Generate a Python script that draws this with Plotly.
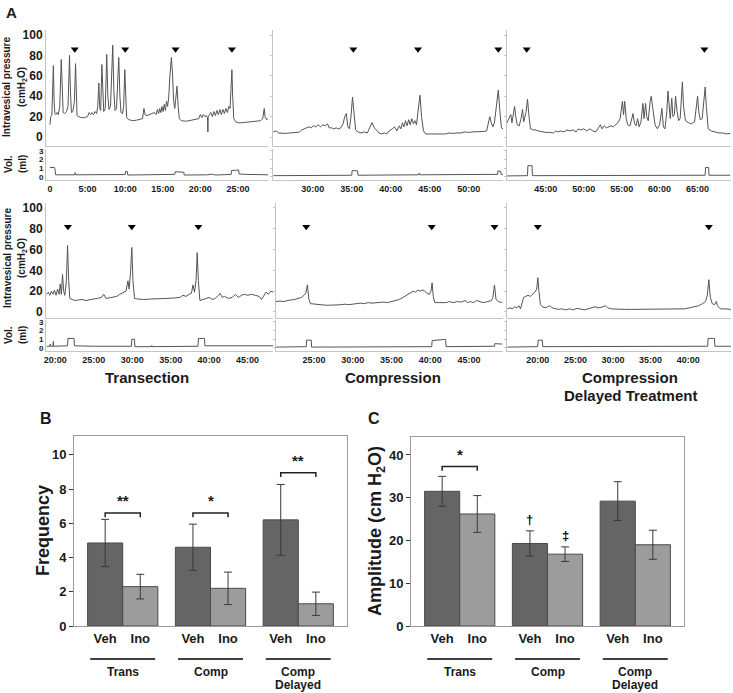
import plotly.graph_objects as go

W, H = 733, 693
FONT = "Liberation Sans, Arial, sans-serif"

# ---------------- Panel A data (time in minutes, pressure cmH2O, volume ml) ----------------
tl_pressure = [(0.0,12),(0.1,20),(0.25,21),(0.35,40),(0.45,70),(0.55,35),(0.65,23),(0.8,22),(0.95,24),(1.1,22),
 (1.3,30),(1.5,76),(1.62,40),(1.75,24),(1.95,23),(2.2,25),(2.4,30),(2.6,80),(2.72,45),(2.85,24),(3.05,25),(3.25,35),
 (3.4,72),(3.5,40),(3.6,21),(3.8,20),(4.2,19),(4.6,19),(5.0,20),(5.2,24),(5.4,22),(5.6,24),(5.8,22),(6.0,25),(6.2,23),
 (6.35,30),(6.5,53),(6.62,28),(6.75,26),(6.9,71),(7.02,35),(7.15,25),(7.35,28),(7.55,81),(7.7,40),(7.85,27),(8.05,30),
 (8.35,90),(8.5,45),(8.65,26),(8.85,28),(9.15,78),(9.3,40),(9.45,24),(9.65,23),(9.8,30),(9.95,66),(10.05,35),(10.2,19),
 (10.5,17),(11,16),(11.5,16.5),(12,17),(12.3,18),(12.5,28),(12.65,22),(12.9,21),(13.3,22),(13.6,23),(13.9,24),(14.1,22),
 (14.3,27),(14.45,23),(14.6,28),(14.75,24),(14.9,30),(15.05,25),(15.2,32),(15.35,26),(15.5,35),(15.65,30),(15.8,40),
 (15.95,60),(16.15,78),(16.3,62),(16.45,35),(16.6,28),(16.75,40),(16.9,50),(17.05,30),(17.2,18),(17.5,16),(18,15.5),
 (18.5,16),(19,16.5),(19.5,17),(19.8,18),(20.0,22),(20.2,19),(20.4,22),(20.6,20),(20.8,21),(20.95,19),(21.0,5),(21.05,20),
 (21.2,22),(21.4,24),(21.6,20),(21.8,25),(22.0,21),(22.2,26),(22.4,22),(22.6,27),(22.8,22),(23.0,27),(23.2,23),(23.4,28),
 (23.6,24),(23.8,30),(23.95,28),(24.1,45),(24.2,66),(24.3,40),(24.45,18),(24.7,15),(25,14),(25.5,14),(26,14.5),(26.5,15),
 (27,15),(27.5,16),(28,16),(28.3,18),(28.5,28),(28.6,20),(28.8,17),(29.0,18)]
tl_volume = [(0,1.1),(0.6,1.1),(0.65,1.0),(0.75,0.25),(3.3,0.25),(3.35,0.5),(3.4,0.25),(10.0,0.28),(10.05,0.65),(10.3,0.6),
 (10.35,0.22),(16.6,0.3),(16.65,0.6),(17.8,0.55),(17.85,0.22),(21,0.25),(21.5,0.32),(22,0.22),(24.1,0.3),(24.15,0.75),
 (25.1,0.8),(25.15,0.35),(26,0.3),(29,0.25)]

tm_pressure = [(24.95,5),(25.3,6),(25.6,4),(26,3.5),(26.5,3.5),(27,4),(27.5,4),(28,4.5),(28.3,5),(28.6,7),(28.9,8),(29.2,9),
 (29.5,10),(29.8,9),(30.1,11),(30.4,10),(30.7,12),(31,10),(31.3,12),(31.6,11),(31.9,13),(32.1,9),(32.4,9),(32.7,8),(33,9),
 (33.3,8),(33.6,9),(33.9,13),(34.1,20),(34.3,23),(34.5,10),(34.7,8),(34.9,20),(35.1,39),(35.3,22),(35.5,7),(35.8,5),(36.2,4),
 (36.6,5),(37,4),(37.3,9),(37.6,14),(37.9,9),(38.2,6),(38.5,4),(38.8,3),(39.2,4),(39.5,3),(39.8,6),(40.2,8),(40.5,10),(40.8,6),
 (41.1,11),(41.3,8),(41.5,14),(41.7,10),(41.9,16),(42.1,11),(42.3,17),(42.5,12),(42.7,18),(42.9,13),(43.1,16),(43.3,12),
 (43.5,28),(43.75,41),(43.95,20),(44.2,6),(44.5,3),(45,3),(45.5,3.5),(46,3),(46.5,3.5),(47,3),(47.5,4),(48,3.5),(48.5,4),
 (49,4),(49.5,5),(50,4.5),(50.5,5),(51,5),(51.5,5.5),(52,5.5),(52.3,6),(52.5,14),(52.7,20),(52.9,14),(53.1,10),(53.3,14),
 (53.55,30),(53.8,46),(54.0,25),(54.2,9),(54.4,8)]
tm_volume = [(24.95,0.15),(35.0,0.2),(35.05,0.75),(35.75,0.7),(35.8,0.2),(43.6,0.25),(43.65,0.45),(43.75,0.25),(53.7,0.3),
 (53.75,0.7),(54.1,0.65),(54.15,0.3),(54.4,0.3)]

tr_pressure = [(39.9,14),(40.2,18),(40.4,22),(40.55,14),(40.75,26),(40.9,30),(41.05,20),(41.25,12),(41.5,11),(41.75,18),
 (41.95,27),(42.1,15),(42.4,24),(42.6,37),(42.8,20),(43.0,8),(43.3,7),(43.6,7),(44,6),(44.5,5),(45,4.5),(45.5,4.5),(46,4),
 (46.3,6),(46.6,5),(47,6),(47.4,5),(47.8,7),(48.2,6),(48.6,7),(49,5),(49.3,8),(49.6,7),(50,8),(50.4,6),(50.8,8),(51.2,6),
 (51.6,5),(51.9,9),(52.2,12),(52.4,8),(52.7,11),(53,9),(53.3,10),(53.6,11),(53.9,10),(54.2,12),(54.5,14),(54.8,18),(55.1,35),
 (55.25,22),(55.4,35),(55.6,18),(55.8,12),(56.1,11),(56.3,16),(56.5,23),(56.7,13),(56.9,11),(57.1,18),(57.3,10),(57.55,15),
 (57.8,33),(57.95,18),(58.15,33),(58.3,20),(58.5,16),(58.75,35),(58.9,40),(59.1,28),(59.4,12),(59.7,8),(60.0,12),(60.3,28),
 (60.5,10),(60.7,8),(60.95,25),(61.1,45),(61.25,25),(61.4,18),(61.6,38),(61.75,20),(61.95,22),(62.1,40),(62.3,25),(62.5,16),
 (62.7,18),(62.85,35),(63.0,54),(63.15,30),(63.4,16),(63.8,14),(64.2,13),(64.6,15),(64.85,30),(65.0,40),(65.15,25),
 (65.35,17),(65.6,18),(65.85,35),(66.0,49),(66.15,30),(66.4,8),(66.8,6),(67.3,5),(67.8,4),(68.3,4),(68.8,3),(69.3,3.5)]
tr_volume = [(39.9,0.12),(42.6,0.15),(42.65,1.3),(43.2,1.3),(43.25,0.15),(66.0,0.2),(66.05,1.1),(66.45,1.1),(66.5,0.2),(69.3,0.2)]

bl_pressure = [(18.9,17),(19.1,19),(19.3,16),(19.5,20),(19.7,17),(19.9,21),(20.1,16),(20.3,22),(20.5,17),(20.65,27),(20.8,17),
 (20.95,36),(21.1,20),(21.25,16),(21.45,30),(21.6,64),(21.75,30),(21.9,13),(22.2,12),(22.6,11),(23,11.5),(23.5,12),(24,11),
 (24.5,12),(25,12.5),(25.5,13),(26,14),(26.3,17),(26.6,13),(27,13.5),(27.5,14),(28,15),(28.4,17),(28.7,18),(29,19),(29.2,20),
 (29.45,30),(29.6,22),(29.8,40),(29.95,62),(30.1,30),(30.3,13),(30.7,12.5),(31.5,12),(32.5,12.5),(33.5,12.5),(34.5,13),
 (35.5,13.5),(36.2,14),(36.6,16),(37.0,15),(37.4,17),(37.7,18),(37.9,26),(38.1,19),(38.3,30),(38.45,57),(38.6,30),(38.8,11),
 (39.2,12),(39.6,13),(40,14),(40.4,12),(40.8,13),(41.2,16),(41.4,18),(41.7,14),(42.0,15),(42.5,13),(43,14),(43.4,17),(43.8,14),
 (44.2,16),(44.6,17),(45,16),(45.5,17),(46,16),(46.5,15),(46.8,12),(47.1,16),(47.4,19),(47.7,17),(48.0,20),(48.3,19)]
bl_volume = [(18.9,0.2),(19.3,0.2),(19.35,0.45),(19.4,0.2),(19.7,0.2),(19.75,0.75),(19.8,0.2),(21.6,0.25),(21.65,1.1),
 (22.45,1.1),(22.5,0.25),(25,0.2),(29.9,0.2),(29.95,1.0),(30.3,1.0),(30.35,0.15),(32.5,0.15),(32.55,0.3),(32.6,0.15),
 (38.55,0.2),(38.6,1.1),(39.4,1.1),(39.45,0.25),(48.3,0.25)]

bm_pressure = [(20.1,10),(20.6,10.5),(21,10),(21.5,11),(22,11.5),(22.5,12),(23,13),(23.4,14),(23.7,16),(23.95,18),(24.15,26),
 (24.35,12),(24.55,8),(25,7.5),(25.5,7),(26,7),(26.5,6.5),(27,6.5),(27.5,6.5),(28,7),(28.5,7),(29,7.5),(29.5,7),(30,7.5),
 (30.5,8),(31,8.5),(31.5,8),(32,9),(32.5,8.5),(33,9),(33.5,9),(34,9.5),(34.5,9),(35,10),(35.5,11),(36,12),(36.5,14),(37,16),
 (37.5,18),(37.8,20),(38.1,19),(38.4,21),(38.7,20),(39,21),(39.3,20),(39.6,18),(39.9,17),(40.1,20),(40.25,28),(40.4,15),
 (40.6,9),(41,9),(41.5,9.5),(42,9),(42.5,10),(43,9),(43.5,10),(44,9.5),(44.5,11),(44.8,9),(45.2,10),(45.6,9),(46,11),
 (46.4,10),(46.8,9),(47.2,9.5),(47.6,10),(47.9,11),(48.1,14),(48.3,26),(48.5,12),(48.8,10),(49.3,9)]
bm_volume = [(20.1,0.1),(24.0,0.15),(24.05,0.9),(24.65,0.9),(24.7,0.1),(40.2,0.15),(40.25,0.85),(41.2,0.95),(42.0,1.0),
 (42.05,0.15),(48.3,0.2),(48.35,0.5),(49.3,0.45)]

br_pressure = [(15.95,3),(16.3,4),(16.6,3),(16.9,5),(17.2,4),(17.5,6),(17.7,3),(17.9,8),(18.1,14),(18.4,15),(18.7,16),(19,15),
 (19.3,17),(19.6,19),(19.85,22),(20.0,33),(20.15,20),(20.35,7),(20.6,5),(21,4),(21.3,5),(21.6,6),(21.9,4),(22.3,3),(22.7,2.5),
 (23.2,3),(23.7,2),(24.2,3),(24.7,2),(25.2,3.5),(25.7,2.5),(26.2,2),(26.7,3),(27.2,4),(27.6,5),(28,4),(28.5,4.5),(29,6),
 (29.3,4),(29.8,3),(30.5,2.5),(31.5,2.5),(32.5,2.5),(33.5,2.5),(34.5,2.5),(35.5,2.5),(36.5,2.5),(37.5,2.5),(38.5,3),(39.5,3),
 (40.2,4),(40.8,5),(41.4,6),(41.9,8),(42.3,10),(42.55,16),(42.75,31),(42.95,14),(43.2,8),(43.5,7),(43.75,10),(43.9,6),
 (44.3,3),(44.8,3),(45.3,2.5),(45.7,2.5)]
br_volume = [(15.95,0.1),(20.0,0.15),(20.05,0.9),(20.6,0.9),(20.65,0.15),(42.6,0.2),(42.65,1.1),(43.5,1.1),(43.55,0.2),(45.7,0.2)]

# infusion markers (minutes)
tl_arrows = [3.3, 10.0, 16.7, 24.2]
tm_arrows = [35.2, 43.5, 53.8]
tr_arrows = [42.5, 65.9]
bl_arrows = [21.65, 29.95, 38.6]
bm_arrows = [24.0, 40.2, 48.3]
br_arrows = [20.0, 42.75]

# time tick values / labels
tl_ticks = [0, 5, 10, 15, 20, 25]
tl_labels = ["0", "5:00", "10:00", "15:00", "20:00", "25:00"]
tm_ticks = [30, 35, 40, 45, 50]
tm_labels = ["30:00", "35:00", "40:00", "45:00", "50:00"]
tr_ticks = [45, 50, 55, 60, 65]
tr_labels = ["45:00", "50:00", "55:00", "60:00", "65:00"]
bl_ticks = [20, 25, 30, 35, 40, 45]
bl_labels = ["20:00", "25:00", "30:00", "35:00", "40:00", "45:00"]
bm_ticks = [25, 30, 35, 40, 45]
bm_labels = ["25:00", "30:00", "35:00", "40:00", "45:00"]
br_ticks = [20, 25, 30, 35, 40]
br_labels = ["20:00", "25:00", "30:00", "35:00", "40:00"]

pressure_ticks = [0, 20, 40, 60, 80, 100]
volume_ticks = [0, 1, 2, 3]

# ---------------- Panels B and C data ----------------
groups = [["Trans"], ["Comp"], ["Comp", "Delayed"]]
treatments = ["Veh", "Ino"]
freq_veh = [4.85, 4.6, 6.2]
freq_veh_err = [1.38, 1.35, 2.07]
freq_ino = [2.3, 2.2, 1.3]
freq_ino_err = [0.72, 0.95, 0.68]
freq_sig = ["**", "*", "**"]
freq_bracket = [6.6, 6.6, 8.95]

amp_veh = [31.5, 19.3, 29.2]
amp_veh_err = [3.5, 2.95, 4.55]
amp_ino = [26.2, 16.8, 19.0]
amp_ino_err = [4.3, 1.7, 3.4]
amp_sig = ["*", "", ""]
amp_bracket = [37.3, None, None]
amp_veh_mark = ["", "†", ""]
amp_ino_mark = ["", "‡", ""]

# ---------------- helpers ----------------
fig = go.Figure()
axes = {}
counter = [0]
TXT = "#1a1a1a"
GRID = "#c4c4c4"


def new_axes(xpx, ypx, xr, yr, xo, yo):
    counter[0] += 1
    n = counter[0]
    xs = "" if n == 1 else str(n)
    axes["xaxis" + xs] = dict(domain=[xpx[0] / W, xpx[1] / W], range=xr, anchor="y" + xs, automargin=False,
                              showgrid=False, zeroline=False, fixedrange=True, **xo)
    axes["yaxis" + xs] = dict(domain=[1 - ypx[1] / H, 1 - ypx[0] / H], range=yr, anchor="x" + xs, automargin=False,
                              showgrid=False, zeroline=False, fixedrange=True, **yo)
    return "x" + xs, "y" + xs


def ann(text, x, y, size, angle=0, xref="paper", yref="paper", xanchor="center", yanchor="middle", color=TXT):
    return dict(text=text, x=x, y=y, xref=xref, yref=yref, showarrow=False, textangle=angle,
                xanchor=xanchor, yanchor=yanchor,
                font=dict(family=FONT, size=size, color=color, weight="bold"))


annotations = []
shapes = []

cols = [
    # (pressure, volume, arrows, ticks, labels, x px, x range, row)
    (tl_pressure, tl_volume, tl_arrows, tl_ticks, tl_labels, (46, 268), [-0.53, 29.0], 0),
    (tm_pressure, tm_volume, tm_arrows, tm_ticks, tm_labels, (273, 503), [24.9, 54.4], 0),
    (tr_pressure, tr_volume, tr_arrows, tr_ticks, tr_labels, (507, 731), [39.9, 69.4], 0),
    (bl_pressure, bl_volume, bl_arrows, bl_ticks, bl_labels, (46, 273), [18.8, 48.3], 1),
    (bm_pressure, bm_volume, bm_arrows, bm_ticks, bm_labels, (276, 503), [20.1, 49.4], 1),
    (br_pressure, br_volume, br_arrows, br_ticks, br_labels, (507, 731), [15.9, 45.7], 1),
]
rows = [
    dict(p_px=(30, 146), p_rng=[-8.8, 104.9], v_px=(149, 180), v_rng=[-0.35, 3.23], arrow=86),
    dict(p_px=(203, 318), p_rng=[-5.8, 104.8], v_px=(320, 351), v_rng=[-0.35, 3.23], arrow=82),
]

for i, (pr, vol, arr, tv, tt, xpx, xr, r) in enumerate(cols):
    row = rows[r]
    first = (i % 3 == 0)
    yo_p = dict(showline=True, linecolor=GRID, linewidth=1,
                tickvals=pressure_ticks, ticks="" if first else "outside", ticklen=2, tickcolor=GRID,
                showticklabels=first, tickfont=dict(family=FONT, size=12, color=TXT, weight="bold"))
    xo_p = dict(showline=True, linecolor=GRID, linewidth=1, showticklabels=False, ticks="")
    xa, ya = new_axes(xpx, row["p_px"], xr, row["p_rng"], xo_p, yo_p)
    fig.add_trace(go.Scatter(x=[p[0] for p in pr], y=[p[1] for p in pr], mode="lines",
                             line=dict(color="#555555", width=1), xaxis=xa, yaxis=ya, hoverinfo="skip"))
    fig.add_trace(go.Scatter(x=arr, y=[row["arrow"]] * len(arr), mode="markers",
                             marker=dict(symbol="triangle-down", size=7, color="black"),
                             xaxis=xa, yaxis=ya, hoverinfo="skip"))
    yo_v = dict(showline=True, linecolor=GRID, linewidth=1, tickvals=volume_ticks,
                ticks="" if first else "outside", ticklen=2, tickcolor=GRID, showticklabels=first,
                tickfont=dict(family=FONT, size=8, color=TXT, weight="bold"))
    xo_v = dict(showline=True, linecolor=GRID, linewidth=1, tickvals=tv, ticktext=tt, ticks="",
                tickfont=dict(family=FONT, size=9, color=TXT, weight="bold"))
    xa, ya = new_axes(xpx, row["v_px"], xr, row["v_rng"], xo_v, yo_v)
    fig.add_trace(go.Scatter(x=[p[0] for p in vol], y=[p[1] for p in vol], mode="lines",
                             line=dict(color="#555555", width=1), xaxis=xa, yaxis=ya, hoverinfo="skip"))

# Panel A labels
annotations.append(ann("A", 4 / W, 1 - 13 / H, 15, xanchor="left"))
for yc in (87, 258):
    annotations.append(ann("Intravesical pressure", 7 / W, 1 - yc / H, 10, angle=-90))
    annotations.append(ann("(cmH<sub>2</sub>O)", 22 / W, 1 - yc / H, 10, angle=-90))
for yc in (164, 335):
    annotations.append(ann("Vol.", 8 / W, 1 - yc / H, 10, angle=-90))
    annotations.append(ann("(ml)", 22 / W, 1 - yc / H, 10, angle=-90))
annotations.append(ann("Transection", 147 / W, 1 - 377 / H, 15))
annotations.append(ann("Compression", 393 / W, 1 - 377 / H, 15))
annotations.append(ann("Compression", 630 / W, 1 - 377 / H, 15))
annotations.append(ann("Delayed Treatment", 630 / W, 1 - 395 / H, 15))

# ---------------- bar panels ----------------
DARK, LIGHT, EDGE = "#656565", "#9c9c9c", "#4a4a4a"
OFF = 0.2


def bar_panel(xpx, ypx, yr, ytick, veh, veh_e, ino, ino_e, ylab, ylab_x, letter, letter_x,
              sig, brk, tick_d, star_gap, veh_mark=None, ino_mark=None):
    xo = dict(showline=True, mirror=True, linecolor="#9a9a9a", linewidth=1,
              tickvals=[g + d for g in range(len(groups)) for d in (-OFF, OFF)],
              ticktext=[t for _ in groups for t in treatments], ticks="",
              tickfont=dict(family=FONT, size=13, color=TXT, weight="bold"))
    yo = dict(showline=True, mirror=True, linecolor="#9a9a9a", linewidth=1, tickvals=ytick,
              ticks="outside", ticklen=4, tickcolor="#333", tickwidth=1,
              tickfont=dict(family=FONT, size=13, color=TXT, weight="bold"))
    xa, ya = new_axes(xpx, ypx, [-0.555, 2.555], yr, xo, yo)
    gx = list(range(len(groups)))
    for vals, errs, col, d in ((veh, veh_e, DARK, -OFF), (ino, ino_e, LIGHT, OFF)):
        fig.add_trace(go.Bar(x=[g + d for g in gx], y=vals, width=0.4, marker=dict(color=col, line=dict(color=EDGE, width=1)),
                             error_y=dict(type="data", array=errs, color="#3a3a3a", thickness=1, width=4),
                             xaxis=xa, yaxis=ya, hoverinfo="skip"))
    # group underline and labels
    for g, lines in zip(gx, groups):
        shapes.append(dict(type="line", xref=xa, yref="paper", x0=g - 0.37, x1=g + 0.37,
                           y0=1 - 659 / H, y1=1 - 659 / H, line=dict(color="black", width=1.5)))
        for k, line in enumerate(lines):
            annotations.append(ann(line, g, 1 - (672 + 12.5 * k) / H, 12, xref=xa))
    # significance brackets
    for g, s, b in zip(gx, sig, brk):
        if b is None:
            continue
        shapes.append(dict(type="path", xref=xa, yref=ya,
                           path=f"M {g-OFF},{b-tick_d} L {g-OFF},{b} L {g+OFF},{b} L {g+OFF},{b-tick_d}",
                           line=dict(color="#222", width=1.5)))
        annotations.append(ann(s, g, b + star_gap, 15, xref=xa, yref=ya, yanchor="bottom"))
    if veh_mark:
        for g, m, v, e in zip(gx, veh_mark, veh, veh_e):
            if m:
                annotations.append(ann(m, g - OFF, v + e + star_gap, 13, xref=xa, yref=ya, yanchor="bottom",
                                       color="#000000"))
    if ino_mark:
        for g, m, v, e in zip(gx, ino_mark, ino, ino_e):
            if m:
                annotations.append(ann(m, g + OFF, v + e + star_gap, 13, xref=xa, yref=ya, yanchor="bottom",
                                       color="#000000"))
    annotations.append(ann(ylab, ylab_x / W, 1 - 531 / H, 18, angle=-90))
    annotations.append(ann(letter, letter_x / W, 1 - 418 / H, 16, xanchor="left"))


bar_panel((74, 347), (436, 626), [0, 11.1], [0, 2, 4, 6, 8, 10], freq_veh, freq_veh_err, freq_ino, freq_ino_err,
          "Frequency", 43, "B", 38, freq_sig, freq_bracket, 0.25, 0.1)
bar_panel((411, 684), (437, 626), [0, 44.2], [0, 10, 20, 30, 40], amp_veh, amp_veh_err, amp_ino, amp_ino_err,
          "Amplitude (cm H<sub>2</sub>O)", 376, "C", 366, amp_sig, amp_bracket, 1.0, 0.4,
          amp_veh_mark, amp_ino_mark)

fig.update_layout(width=W, height=H, margin=dict(l=0, r=0, t=0, b=0, pad=0, autoexpand=False), showlegend=False,
                  plot_bgcolor="white", paper_bgcolor="white", barmode="overlay",
                  font=dict(family=FONT, color=TXT, weight="bold"),
                  annotations=annotations, shapes=shapes, **axes)
fig.write_html("out.html", config={"displayModeBar": False},
               post_script="document.body.style.margin='0';document.body.style.overflow='hidden';")
